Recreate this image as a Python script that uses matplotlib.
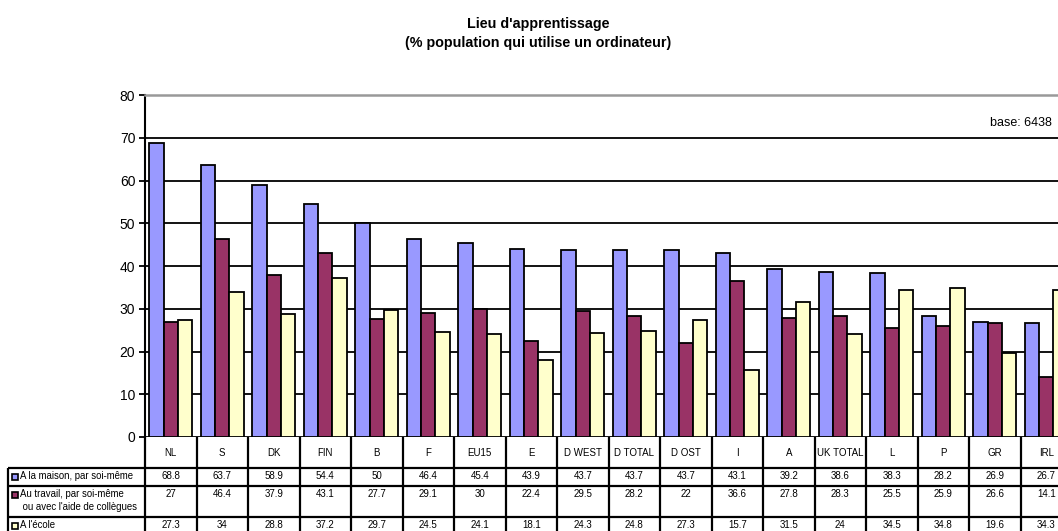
import numpy as np
import matplotlib.pyplot as plt
from matplotlib.patches import Rectangle

plt.rcParams['font.family'] = ['Liberation Sans', 'DejaVu Sans']

# data
categories = ['NL', 'S', 'DK', 'FIN', 'B', 'F', 'EU15', 'E', 'D WEST', 'D TOTAL',
              'D OST', 'I', 'A', 'UK TOTAL', 'L', 'P', 'GR', 'IRL']
maison = [68.8, 63.7, 58.9, 54.4, 50, 46.4, 45.4, 43.9, 43.7, 43.7, 43.7, 43.1,
          39.2, 38.6, 38.3, 28.2, 26.9, 26.7]
travail = [27, 46.4, 37.9, 43.1, 27.7, 29.1, 30, 22.4, 29.5, 28.2, 22, 36.6,
           27.8, 28.3, 25.5, 25.9, 26.6, 14.1]
ecole = [27.3, 34, 28.8, 37.2, 29.7, 24.5, 24.1, 18.1, 24.3, 24.8, 27.3, 15.7,
         31.5, 24, 34.5, 34.8, 19.6, 34.3]
series_labels = ['A la maison, par soi-même',
                 'Au travail, par soi-même\n ou avec l\'aide de collègues',
                 'A l\'école']
colors = ['#9999FF', '#993366', '#FFFFCC']

W, H = 1058, 531
fig = plt.figure(figsize=(W / 100, H / 100), dpi=100)

cw = 51.5  # px per category
ax_left, ax_bottom, ax_top = 145, 437, 95
ax_w = cw * len(categories)
ax = fig.add_axes([ax_left / W, (H - ax_bottom) / H, ax_w / W, (ax_bottom - ax_top) / H])

x = np.arange(len(categories))
bw = 0.28
for k, vals in enumerate([maison, travail, ecole]):
    ax.bar(x + (k - 1) * bw, vals, width=bw, color=colors[k], edgecolor='black',
           linewidth=1.3, zorder=3)

ax.set_xlim(-0.5, len(categories) - 0.5)
ax.set_ylim(0, 80)
ax.set_yticks(range(0, 81, 10))
ax.tick_params(axis='y', direction='out', length=4, width=1.3, labelsize=10, pad=3)
ax.set_xticks([])
ax.yaxis.grid(True, color='black', linewidth=1.3, zorder=0)
ax.set_axisbelow(True)
for s in ['right', 'bottom']:
    ax.spines[s].set_visible(False)
ax.spines['top'].set_color('#999999')
ax.spines['top'].set_linewidth(1.8)
ax.spines['left'].set_linewidth(1.5)

ax.text(1052 / W, (H - 123) / H, 'base: 6438', transform=fig.transFigure,
        ha='right', va='center', fontsize=9)

fig.text(538 / W, 1 - 24 / H, "Lieu d'apprentissage", ha='center', va='center',
         fontsize=10.3, fontweight='bold')
fig.text(538 / W, 1 - 43 / H, "(% population qui utilise un ordinateur)",
         ha='center', va='center', fontsize=10.3, fontweight='bold')

# table below the axis
tax = fig.add_axes([ax_left / W, 0, ax_w / W, (H - ax_bottom) / H], sharex=ax)
tax.set_ylim(H - ax_bottom, 0)  # pixel rows from the axis line downward
tax.axis('off')
rows = [0, 31, 49, 80, 110]
lab_left = -0.5 - (ax_left - 8) / cw
lw = 1.6
kw = dict(color='black', linewidth=lw, clip_on=False, solid_capstyle='butt')
for r in rows[1:4]:
    tax.plot([lab_left, len(categories) - 0.5], [r, r], **kw)
for i in range(len(categories) + 1):
    tax.plot([i - 0.5, i - 0.5], [0, rows[-1]], **kw)
tax.plot([lab_left, lab_left], [rows[1], rows[-1]], **kw)

for i, c in enumerate(categories):
    tax.text(i, (rows[0] + rows[1]) / 2, c, ha='center', va='center', fontsize=7)
    for k, vals in enumerate([maison, travail, ecole]):
        y0 = rows[k + 1]
        tax.text(i, y0 + 3, f'{vals[i]:g}', ha='center', va='top', fontsize=7)

sw = 6 / cw
for k, lab in enumerate(series_labels):
    y0 = rows[k + 1]
    tax.add_patch(Rectangle((lab_left + 4 / cw, y0 + 6), sw, 6, facecolor=colors[k],
                            edgecolor='black', linewidth=1.2, clip_on=False))
    tax.text(lab_left + 12 / cw, y0 + 3, lab, ha='left', va='top', fontsize=6.9,
             linespacing=1.4)

fig.savefig('out.png', dpi=100)
